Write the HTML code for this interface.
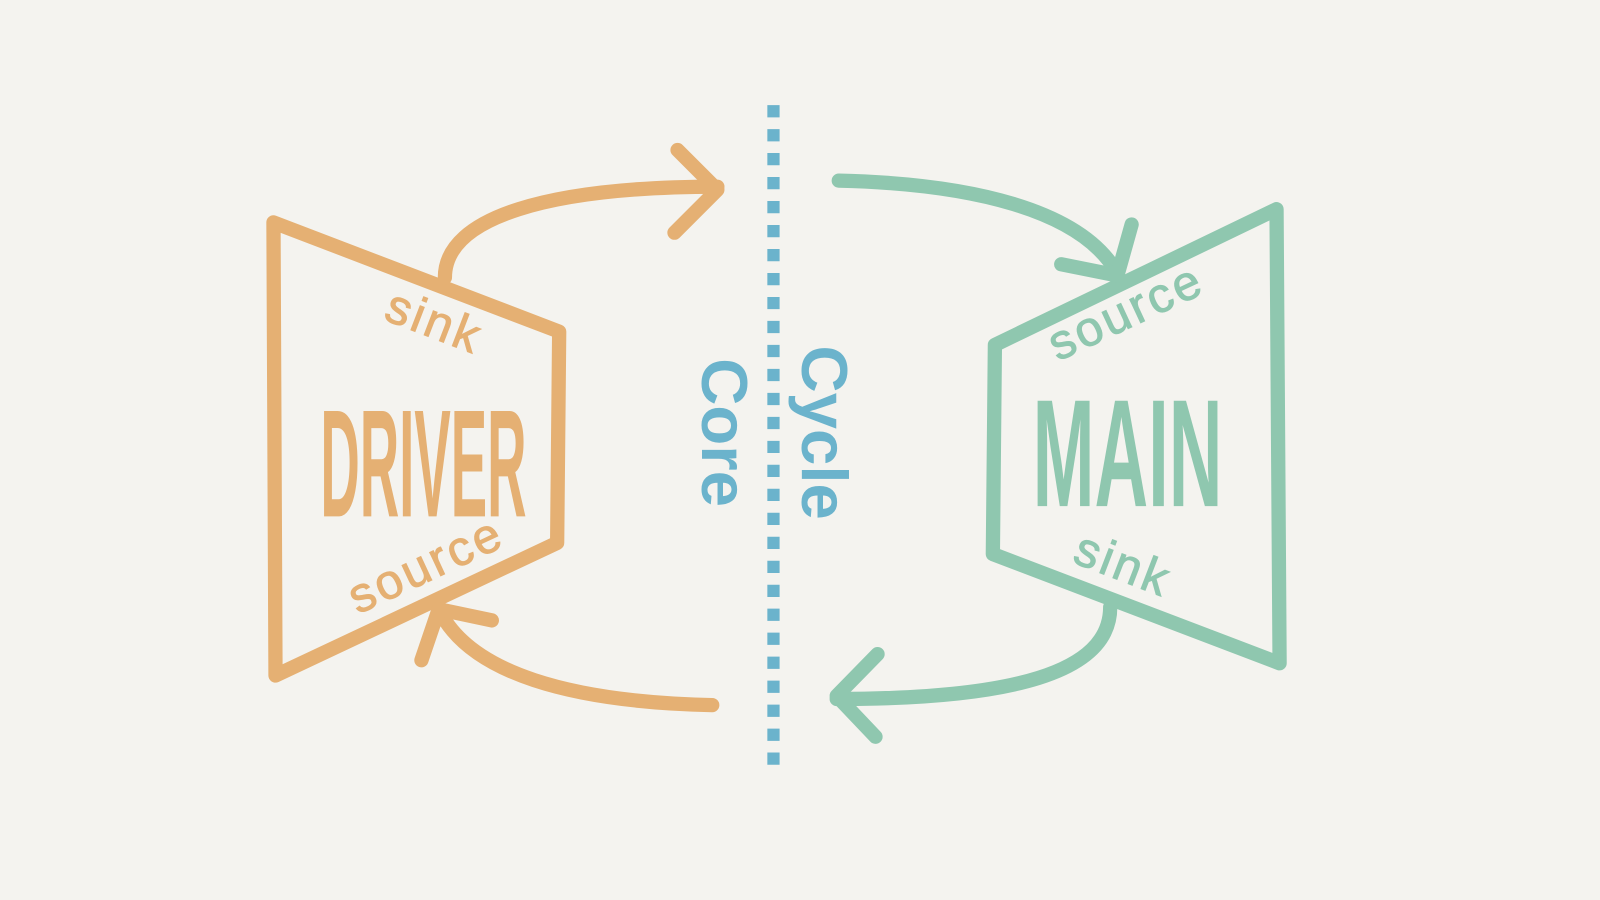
<!DOCTYPE html>
<html><head><meta charset="utf-8"><style>
html,body{margin:0;padding:0;background:#F4F3EF;}
svg{display:block}
text{font-family:"Liberation Sans",sans-serif}
</style></head><body>
<svg width="1600" height="900" viewBox="0 0 1568 882" preserveAspectRatio="none">
<rect width="1568" height="882" fill="#F4F3EF"/>
<g fill="none" stroke-linecap="round" stroke-linejoin="round" stroke-width="14">
  <g stroke="#E5B073">
    <polygon points="268,218 548,325 546,532 270,662"/>
    <path d="M436,272 C436,212 540,183 703,183"/>
    <path d="M664,147 L703,186 L661,228"/>
    <path d="M698,691 C560,688 460,660 430,597"/>
    <path d="M482,608 L430,597 L413,647"/>
  </g>
  <g stroke="#8FC7AF">
    <polygon points="1251,205 1254,650 973,543 975,338"/>
    <path d="M822,177 C950,180 1060,205 1095,268"/>
    <path d="M1040,259 L1095,270 L1109,220"/>
    <path d="M1088,595 C1088,660 990,685 820,685"/>
    <path d="M860,641 L820,682 L858,722"/>
  </g>
</g>
<line x1="758" y1="103" x2="758" y2="750" stroke="#6BB3CC" stroke-width="12" stroke-dasharray="12 11.5"/>
<g fill="#6BB3CC" font-weight="bold" font-size="64">
  <text transform="translate(786,424) rotate(90)" text-anchor="middle">Cycle</text>
  <text transform="translate(688,424) rotate(90)" text-anchor="middle">Core</text>
</g>
<g fill="#E5B073">
  <text x="314" y="506" font-size="150" font-weight="bold" textLength="202" lengthAdjust="spacingAndGlyphs">DRIVER</text>
  <text transform="translate(420,330) rotate(21)" text-anchor="middle" font-size="48" letter-spacing="3" stroke="#E5B073" stroke-width="1">sink</text>
  <text transform="translate(424,568) rotate(-25)" text-anchor="middle" font-size="48" letter-spacing="3" stroke="#E5B073" stroke-width="1">source</text>
</g>
<g fill="#8FC7AF">
  <text x="1012" y="496" font-size="150" font-weight="bold" textLength="186" lengthAdjust="spacingAndGlyphs">MAIN</text>
  <text transform="translate(1110,320) rotate(-25)" text-anchor="middle" font-size="48" letter-spacing="3" stroke="#8FC7AF" stroke-width="1">source</text>
  <text transform="translate(1095,568) rotate(21)" text-anchor="middle" font-size="48" letter-spacing="3" stroke="#8FC7AF" stroke-width="1">sink</text>
</g>
</svg>
</body></html>
